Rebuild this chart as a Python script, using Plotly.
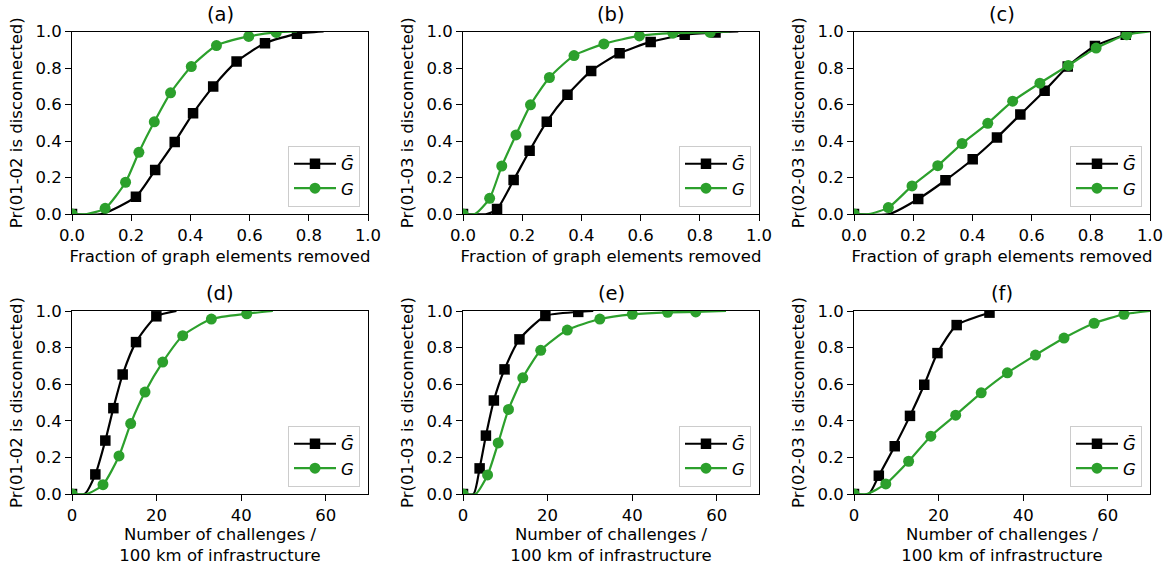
import plotly.graph_objects as go

# ---------------- data ----------------
# panel (a): Pr(01-02), fraction removed
a_gbar_x = [0.0, 0.216, 0.281, 0.347, 0.409, 0.477, 0.556, 0.652, 0.760]
a_gbar_y = [0.0, 0.095, 0.241, 0.395, 0.552, 0.698, 0.835, 0.936, 0.987]
a_g_x = [0.0, 0.112, 0.181, 0.226, 0.278, 0.333, 0.403, 0.488, 0.597, 0.690]
a_g_y = [0.0, 0.031, 0.174, 0.338, 0.505, 0.664, 0.808, 0.923, 0.973, 0.995]
# panel (b): Pr(01-03)
b_gbar_x = [0.0, 0.115, 0.171, 0.225, 0.283, 0.353, 0.433, 0.529, 0.634, 0.749, 0.853]
b_gbar_y = [0.0, 0.027, 0.186, 0.347, 0.506, 0.653, 0.784, 0.881, 0.943, 0.982, 0.995]
b_g_x = [0.0, 0.090, 0.131, 0.179, 0.228, 0.292, 0.375, 0.476, 0.596, 0.709, 0.835]
b_g_y = [0.0, 0.086, 0.263, 0.433, 0.598, 0.748, 0.868, 0.932, 0.976, 0.991, 0.995]
# panel (c): Pr(02-03)
c_gbar_x = [0.0, 0.217, 0.309, 0.401, 0.483, 0.562, 0.644, 0.722, 0.814, 0.918]
c_gbar_y = [0.0, 0.082, 0.185, 0.300, 0.419, 0.545, 0.675, 0.808, 0.921, 0.982]
c_g_x = [0.0, 0.116, 0.196, 0.283, 0.365, 0.452, 0.536, 0.628, 0.724, 0.818, 0.921]
c_g_y = [0.0, 0.035, 0.154, 0.265, 0.386, 0.497, 0.618, 0.717, 0.814, 0.909, 0.982]
# panel (d): Pr(01-02), challenges / 100 km
d_gbar_x = [0.0, 5.52, 7.88, 9.78, 11.98, 15.14, 19.95]
d_gbar_y = [0.0, 0.107, 0.292, 0.469, 0.653, 0.830, 0.971]
d_g_x = [0.0, 7.33, 11.12, 13.88, 17.27, 21.45, 26.18, 32.96, 41.32]
d_g_y = [0.0, 0.051, 0.208, 0.385, 0.557, 0.721, 0.865, 0.956, 0.985]
# panel (e): Pr(01-03)
e_gbar_x = [0.0, 3.93, 5.42, 7.30, 9.82, 13.35, 19.48, 27.25]
e_gbar_y = [0.0, 0.140, 0.319, 0.511, 0.681, 0.845, 0.973, 0.995]
e_g_x = [0.0, 5.81, 8.32, 10.76, 14.14, 18.38, 24.66, 32.36, 40.05, 48.38, 55.05]
e_g_y = [0.0, 0.104, 0.279, 0.462, 0.635, 0.785, 0.896, 0.956, 0.982, 0.993, 0.995]
# panel (f): Pr(02-03)
f_gbar_x = [0.0, 5.87, 9.63, 13.24, 16.61, 19.74, 24.28, 32.04]
f_gbar_y = [0.0, 0.100, 0.261, 0.427, 0.597, 0.770, 0.923, 0.991]
f_g_x = [0.0, 7.52, 12.92, 18.17, 24.05, 30.08, 36.27, 42.92, 49.66, 56.79, 63.84]
f_g_y = [0.0, 0.055, 0.179, 0.316, 0.431, 0.553, 0.662, 0.759, 0.852, 0.933, 0.982]

# extra curve points (line only, no marker): where the curve leaves 0 and reaches 1
gbar_start_x = [0.10, 0.08, 0.12, 3.0, 2.5, 3.5]
g_start_x = [0.05, 0.04, 0.05, 3.5, 3.0, 3.0]
gbar_end_x = [0.85, 0.93, 0.97, 24.7, 30.8, 33.0]
g_end_x = [0.76, 0.90, 1.00, 47.5, 62.2, 70.0]

panel_titles = ["(a)", "(b)", "(c)", "(d)", "(e)", "(f)"]
pairs = ["01-02", "01-03", "02-03", "01-02", "01-03", "02-03"]
x_title_top = "Fraction of graph elements removed"
x_title_bottom = "Number of challenges /<br>100 km of infrastructure"
series_names = ["<i>Ḡ</i>", "<i>G</i>"]

gbar_x = [a_gbar_x, b_gbar_x, c_gbar_x, d_gbar_x, e_gbar_x, f_gbar_x]
gbar_y = [a_gbar_y, b_gbar_y, c_gbar_y, d_gbar_y, e_gbar_y, f_gbar_y]
g_x = [a_g_x, b_g_x, c_g_x, d_g_x, e_g_x, f_g_x]
g_y = [a_g_y, b_g_y, c_g_y, d_g_y, e_g_y, f_g_y]

# ---------------- layout geometry ----------------
W, H = 1173, 568
x_dom = [(72, 368), (463, 759), (854, 1150)]
y_dom = [(31.5, 214), (311, 494)]  # top-to-bottom pixel rows
FONT = "DejaVu Sans"
FS = 16.5
BLACK = "#000000"
GREEN = "#2ca02c"

fig = go.Figure()
layout = dict(
    width=W, height=H, margin=dict(l=0, r=0, t=0, b=0, pad=0, autoexpand=False),
    paper_bgcolor="white", plot_bgcolor="white",
    font=dict(family=FONT, size=FS, color="black"),
    annotations=[],
)

for i in range(6):
    row, col = divmod(i, 3)
    ax = "" if i == 0 else str(i + 1)
    xa, ya = "x" + ax, "y" + ax
    leg = "legend" if i == 0 else "legend" + str(i + 1)
    x0, x1 = x_dom[col]
    yt, yb = y_dom[row]
    xdomain = [x0 / W, x1 / W]
    ydomain = [(H - yb) / H, (H - yt) / H]
    top = row == 0

    series = [
        (series_names[0], BLACK, "square", 10.5, gbar_x[i], gbar_y[i], gbar_start_x[i], gbar_end_x[i]),
        (series_names[1], GREEN, "circle", 11, g_x[i], g_y[i], g_start_x[i], g_end_x[i]),
    ]
    for name, color, sym, msize, mx, my, sx, ex in series:
        lx = [mx[0], sx] + mx[1:] + [ex]
        ly = [my[0], 0.0] + my[1:] + [1.0]
        fig.add_trace(go.Scatter(
            x=lx, y=ly, mode="lines", xaxis=xa, yaxis=ya,
            line=dict(color=color, width=2.2, shape="spline", smoothing=0.6),
            showlegend=False, hoverinfo="skip"))
        fig.add_trace(go.Scatter(
            x=mx, y=my, mode="markers", xaxis=xa, yaxis=ya,
            marker=dict(color=color, symbol=sym, size=msize, line=dict(width=0)),
            showlegend=False))
        fig.add_trace(go.Scatter(
            x=[None], y=[None], mode="lines+markers", xaxis=xa, yaxis=ya,
            name=name, legend=leg,
            line=dict(color=color, width=2.2),
            marker=dict(color=color, symbol=sym, size=msize, line=dict(width=0))))

    common = dict(showline=True, linecolor="black", linewidth=1, mirror=True,
                  ticks="outside", ticklen=6, tickwidth=1, tickcolor="black",
                  showgrid=False, zeroline=False, automargin=False,
                  tickfont=dict(family=FONT, size=FS, color="black"))
    if top:
        xaxis = dict(domain=xdomain, range=[0, 1], tickvals=[0, 0.2, 0.4, 0.6, 0.8, 1.0],
                     tickformat=".1f",
                     title=dict(text=x_title_top, standoff=6, font=dict(size=FS)),
                     anchor=ya, **common)
    else:
        xaxis = dict(domain=xdomain, range=[0, 70], tickvals=[0, 20, 40, 60],
                     title=dict(text=x_title_bottom, standoff=1, font=dict(size=FS)),
                     anchor=ya, **common)
    yaxis = dict(domain=ydomain, range=[0, 1], tickvals=[0, 0.2, 0.4, 0.6, 0.8, 1.0],
                 tickformat=".1f",
                 title=dict(text="Pr(" + pairs[i] + " is disconnected)", standoff=8,
                            font=dict(size=FS)),
                 anchor=xa, **common)
    layout["xaxis" + ax] = xaxis
    layout["yaxis" + ax] = yaxis

    # legend at lower right of the panel
    layout[leg] = dict(
        x=(x1 - 8) / W, y=(H - (yb - 7.5)) / H, xanchor="right", yanchor="bottom",
        bgcolor="rgba(255,255,255,0.8)", bordercolor="#cccccc", borderwidth=1,
        font=dict(family=FONT, size=FS, color="black"),
        itemwidth=42, tracegroupgap=0)

    layout["annotations"].append(dict(
        text=panel_titles[i], xref="paper", yref="paper",
        x=(x0 + x1) / 2 / W, y=(H - yt + 4) / H, xanchor="center", yanchor="bottom",
        showarrow=False, font=dict(family=FONT, size=19.5, color="black")))

fig.update_layout(**layout)
fig.write_html("out.html")
